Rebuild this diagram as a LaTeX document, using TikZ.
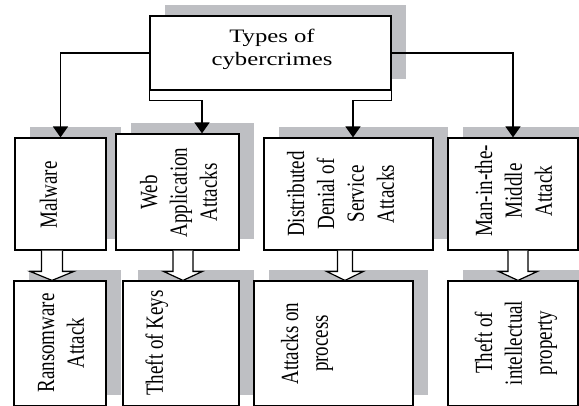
\documentclass[tikz,border=0pt]{standalone}
\usepackage{fontspec}
\setmainfont{Liberation Serif}
\usepackage{graphicx}
\usetikzlibrary{arrows.meta,shadows,calc}
\definecolor{shgray}{RGB}{190,191,195}
\newcommand\vlbl[1]{\scalebox{1.3}[1]{\rotatebox{90}{\fontsize{19}{23}\selectfont\begin{tabular}{@{}c@{}}#1\end{tabular}}}}
\newcommand\hlbl[1]{\scalebox{1.3}[1]{\fontsize{19}{23}\selectfont\begin{tabular}{@{}c@{}}#1\end{tabular}}}
\newcommand\blkarrow[5]{%
  \draw[blk] (#3-#4,0 |- #1.south)
    -- ($(#3-#4,0 |- #2.north)+(0,-9)$)
    -- ($(#3-#5,0 |- #2.north)+(0,-9)$)
    -- (#3,0 |- #2.north)
    -- ($(#3+#5,0 |- #2.north)+(0,-9)$)
    -- ($(#3+#4,0 |- #2.north)+(0,-9)$)
    -- (#3+#4,0 |- #1.south);}
\begin{document}
\begin{tikzpicture}[x=1pt,y=-1pt,
  box/.style={draw, line width=1.2pt, fill=white, inner sep=0pt,
    general shadow={fill=shgray, draw=none, shadow xshift=15pt, shadow yshift=11pt}},
  lbl/.style={inner sep=0pt},
  conn/.style={line width=1.6pt, -{Triangle[width=15pt,length=11pt]}},
  blk/.style={draw, line width=1.2pt, fill=white, line join=miter}]
\useasboundingbox (0,0) rectangle (579,405);
\clip (0,0) rectangle (579,405);
% boxes
\node[box, minimum width=241pt, minimum height=74pt] (top) at (270.5,53) {};
\node[box, minimum width=91pt, minimum height=112pt] (mal) at (60.5,194) {};
\node[box, minimum width=123pt, minimum height=116pt] (web) at (177.5,192) {};
\node[box, minimum width=169pt, minimum height=112pt] (ddos) at (348.5,194) {};
\node[box, minimum width=130pt, minimum height=112pt] (mitm) at (513,194) {};
\node[box, minimum width=92pt, minimum height=125pt] (ran) at (60,343.5) {};
\node[box, minimum width=116pt, minimum height=125pt] (keys) at (181,343.5) {};
\node[box, minimum width=159pt, minimum height=125pt] (atk) at (333.5,343.5) {};
\node[box, minimum width=130pt, minimum height=125pt] (tip) at (513,343.5) {};
% labels
\node[lbl] (toplbl) at (272,49) {\hlbl{Types of\\cybercrimes}};
\node[lbl] (mallbl) at (51,195) {\vlbl{Malware}};
\node[lbl] (weblbl) at (181,192.5) {\vlbl{Web\\Application\\Attacks}};
\node[lbl] (ddoslbl) at (343,194) {\vlbl{Distributed\\Denial of\\Service\\Attacks}};
\node[lbl] (mitmlbl) at (516,191) {\vlbl{Man-in-the-\\Middle\\Attack}};
\node[lbl] (ranlbl) at (63,343) {\vlbl{Ransomware\\Attack}};
\node[lbl] (keyslbl) at (157,343) {\vlbl{Theft of Keys}};
\node[lbl] (atklbl) at (307,343.5) {\vlbl{Attacks on\\process}};
\node[lbl] (tiplbl) at (516,343) {\vlbl{Theft of\\intellectual\\property}};
% connectors
\draw[conn] (top.west) -| (mal.north);
\draw[conn] (top.south west) -- ++(0,10) -| ([xshift=24.5pt]web.north);
\draw[conn] (top.south east) -- ++(0,10) -| ([xshift=4.5pt]ddos.north);
\draw[conn] (top.east) -| (mitm.north);
% block arrows
\blkarrow{mal}{ran}{52}{10.5}{22}
\blkarrow{web}{keys}{183}{10}{19.5}
\blkarrow{ddos}{atk}{345}{7.5}{18.5}
\blkarrow{mitm}{tip}{518}{10}{19.5}
\end{tikzpicture}
\end{document}
